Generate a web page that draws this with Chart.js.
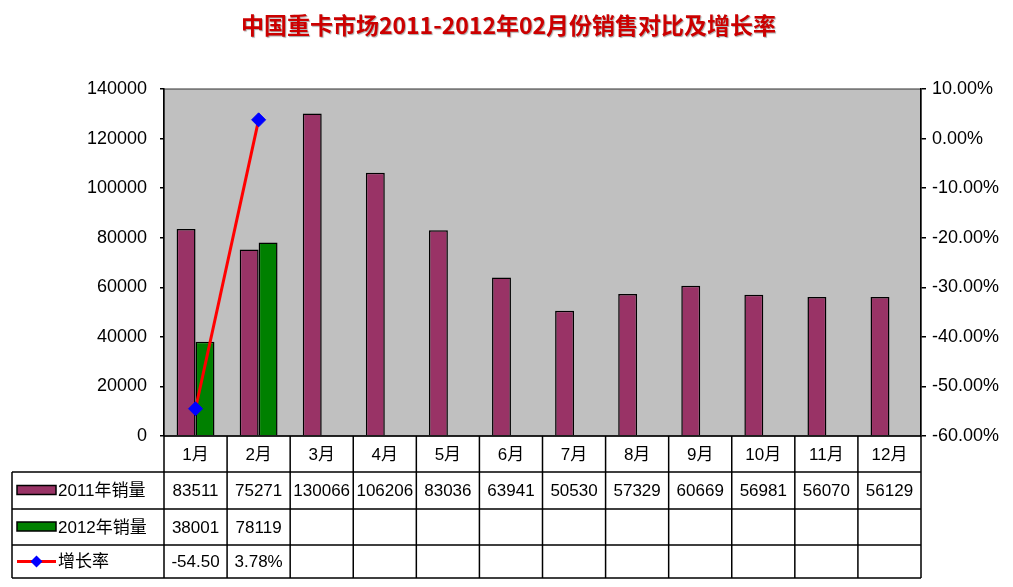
<!DOCTYPE html>
<html>
<head>
<meta charset="utf-8">
<script src="https://cdn.jsdelivr.net/npm/chart.js@4.4.1/dist/chart.umd.min.js"></script>
<style>
  html, body { margin: 0; padding: 0; background: #fff; }
  canvas { display: block; }
</style>
</head>
<body>
<canvas id="salesChart" width="1013" height="587"></canvas>
<script>
const title = '中国重卡市场2011-2012年02月份销售对比及增长率';
const months = ['1月', '2月', '3月', '4月', '5月', '6月', '7月', '8月', '9月', '10月', '11月', '12月'];
const sales2011 = [83511, 75271, 130066, 106206, 83036, 63941, 50530, 57329, 60669, 56981, 56070, 56129];
const sales2012 = [38001, 78119, null, null, null, null, null, null, null, null, null, null];
const growth = [-54.50, 3.78, null, null, null, null, null, null, null, null, null, null];
const seriesNames = ['2011年销量', '2012年销量', '增长率'];

const MAROON = '#993366';
const GREEN = '#008000';
const RED = '#FF0000';
const BLUE = '#0000FF';
const FONT = '"Liberation Sans", Arial, "Noto Sans CJK SC", sans-serif';

// heights of the data table rows under the plot
const rowHeights = [36, 37, 36, 33];
const tableLeft = 12;

function fitText(ctx, text, maxW) {
  let t = text;
  while (t.length > 1 && ctx.measureText(t).width > maxW) t = t.slice(0, -1);
  return t;
}

const tablePlugin = {
  id: 'tablePlugin',
  beforeDraw(chart) {
    const { ctx, chartArea: a } = chart;
    ctx.save();
    ctx.fillStyle = '#fff';
    ctx.fillRect(0, 0, chart.width, chart.height);
    ctx.fillStyle = '#C0C0C0';
    ctx.fillRect(a.left, a.top, a.right - a.left, a.bottom - a.top);
    ctx.strokeStyle = '#333';
    ctx.lineWidth = 1;
    ctx.strokeRect(a.left, a.top, a.right - a.left, a.bottom - a.top);

    // title
    ctx.font = 'bold 23px "Noto Sans CJK SC", sans-serif';
    ctx.textAlign = 'center';
    ctx.textBaseline = 'middle';
    ctx.shadowColor = 'rgba(0,0,0,0.35)';
    ctx.shadowOffsetX = 1;
    ctx.shadowOffsetY = 1;
    ctx.shadowBlur = 1;
    ctx.fillStyle = '#CC0000';
    ctx.fillText(title, chart.width / 2 + 2, 25);
    ctx.restore();
  },
  afterDraw(chart) {
    const { ctx, chartArea: a } = chart;
    const xs = chart.scales.x;
    const n = months.length;
    const catW = (a.right - a.left) / n;
    const ys = [a.bottom];
    rowHeights.forEach(h => ys.push(ys[ys.length - 1] + h));

    ctx.save();
    ctx.strokeStyle = '#000';
    ctx.lineWidth = 1.5;

    // horizontal lines
    ctx.beginPath();
    ctx.moveTo(a.left, ys[0]); ctx.lineTo(a.right, ys[0]);
    for (let r = 1; r < ys.length; r++) {
      ctx.moveTo(tableLeft, ys[r]); ctx.lineTo(a.right, ys[r]);
    }
    // vertical lines
    for (let i = 0; i <= n; i++) {
      const x = a.left + i * catW;
      ctx.moveTo(x, ys[0]); ctx.lineTo(x, ys[ys.length - 1]);
    }
    ctx.moveTo(tableLeft, ys[1]); ctx.lineTo(tableLeft, ys[ys.length - 1]);
    ctx.stroke();

    ctx.fillStyle = '#000';
    ctx.textBaseline = 'middle';
    ctx.textAlign = 'center';
    ctx.font = '17px ' + FONT;

    const rows = [
      months,
      sales2011.map(v => v == null ? '' : String(v)),
      sales2012.map(v => v == null ? '' : String(v)),
      growth.map(v => v == null ? '' : v.toFixed(2) + '%')
    ];
    rows.forEach((row, r) => {
      const cy = (ys[r] + ys[r + 1]) / 2 + 1;
      row.forEach((txt, i) => {
        if (!txt) return;
        const cx = xs.getPixelForValue(i);
        ctx.fillText(fitText(ctx, txt, catW - 3), cx, cy);
      });
    });

    // legend keys in the table
    ctx.textAlign = 'left';
    const keyX = 17, keyW = 39;
    seriesNames.forEach((name, k) => {
      const cy = (ys[k + 1] + ys[k + 2]) / 2;
      if (k < 2) {
        ctx.fillStyle = k === 0 ? MAROON : GREEN;
        ctx.fillRect(keyX, cy - 5, keyW, 9);
        ctx.lineWidth = 1.5;
        ctx.strokeStyle = '#000';
        ctx.strokeRect(keyX, cy - 5, keyW, 9);
      } else {
        ctx.strokeStyle = RED;
        ctx.lineWidth = 3;
        ctx.beginPath();
        ctx.moveTo(keyX, cy); ctx.lineTo(keyX + keyW, cy);
        ctx.stroke();
        ctx.fillStyle = BLUE;
        ctx.beginPath();
        const px = keyX + keyW / 2;
        ctx.moveTo(px, cy - 6); ctx.lineTo(px + 6, cy); ctx.lineTo(px, cy + 6); ctx.lineTo(px - 6, cy);
        ctx.closePath();
        ctx.fill();
      }
      ctx.fillStyle = '#000';
      ctx.fillText(name, keyX + keyW + 2, cy + 1);
    });
    ctx.restore();
  }
};

new Chart(document.getElementById('salesChart').getContext('2d'), {
  type: 'bar',
  data: {
    labels: months,
    datasets: [
      {
        type: 'line',
        label: seriesNames[2],
        data: growth,
        yAxisID: 'y1',
        borderColor: RED,
        borderWidth: 3,
        pointStyle: 'rectRot',
        pointRadius: 7,
        pointBackgroundColor: BLUE,
        pointBorderColor: BLUE,
        pointBorderWidth: 1,
        spanGaps: false,
        tension: 0,
        order: 0
      },
      {
        label: seriesNames[0],
        data: sales2011,
        yAxisID: 'y',
        backgroundColor: MAROON,
        borderColor: '#000',
        borderWidth: 1.5,
        categoryPercentage: 0.6,
        barPercentage: 1.0,
        order: 1
      },
      {
        label: seriesNames[1],
        data: sales2012,
        yAxisID: 'y',
        backgroundColor: GREEN,
        borderColor: '#000',
        borderWidth: 1.5,
        categoryPercentage: 0.6,
        barPercentage: 1.0,
        order: 1
      }
    ]
  },
  options: {
    responsive: false,
    devicePixelRatio: 1,
    animation: false,
    layout: { padding: { top: 89, bottom: 151, left: 0, right: 0 } },
    plugins: {
      legend: { display: false },
      title: { display: false },
      tooltip: { enabled: false }
    },
    scales: {
      x: {
        display: false
      },
      y: {
        position: 'left',
        min: 0,
        max: 140000,
        ticks: {
          stepSize: 20000,
          color: '#000',
          padding: 13,
          font: { family: FONT, size: 18 },
          callback: v => String(v)
        },
        grid: { drawOnChartArea: false, color: '#000', tickLength: 4, lineWidth: 1.5 },
        border: { display: true, color: '#000', width: 1.5 },
        afterFit(scale) { scale.width = 164; }
      },
      y1: {
        position: 'right',
        min: -60,
        max: 10,
        ticks: {
          stepSize: 10,
          color: '#000',
          padding: 6,
          font: { family: FONT, size: 18 },
          callback: v => v.toFixed(2) + '%'
        },
        grid: { drawOnChartArea: false, color: '#000', tickLength: 5, lineWidth: 1.5 },
        border: { display: true, color: '#000', width: 1.5 },
        afterFit(scale) { scale.width = 92; }
      }
    }
  },
  plugins: [tablePlugin]
});
</script>
</body>
</html>
